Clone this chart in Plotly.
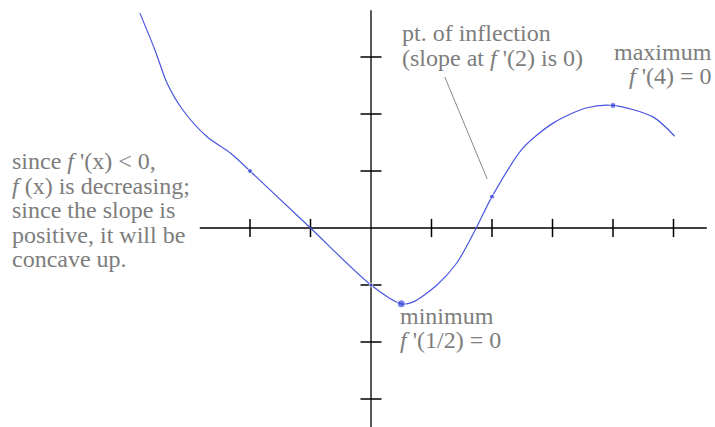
import plotly.graph_objects as go

# Derivative curve f'(x), traced as (x, y) samples; split at the corner x = -2
left_x = [-3.82, -3.57, -3.37, -3.11, -2.71, -2.33, -2.0]
left_y = [3.77, 3.12, 2.54, 2.07, 1.60, 1.32, 1.0]
right_x = [-2.0, -1.0, 0.0, 0.5, 0.69, 1.09, 1.42, 1.74, 2.0, 2.51, 3.01, 3.57, 4.0, 4.66, 5.02]
right_y = [1.0, 0.0, -1.0, -1.33, -1.30, -1.0, -0.61, 0.0, 0.55, 1.40, 1.84, 2.11, 2.15, 1.95, 1.61]

# Highlighted points on the curve
point_x = [-2.0, 0.0, 0.5, 2.0, 4.0]
point_y = [1.0, -1.0, -1.33, 0.55, 2.15]
point_size = [5, 4, 8, 5, 6]

# Axis tick positions
x_ticks = [-2, -1, 1, 2, 3, 4, 5]
y_ticks = [-3, -2, -1, 1, 2, 3]

# Axis extents
x_axis_span = [-2.83, 5.55]
y_axis_span = [-3.6, 3.82]

# Note lines
concavity_lines = ["since <i>f</i> '(x) &lt; 0,", "<i>f</i> (x) is decreasing;", "since the slope is",
                   "positive, it will be", "concave up."]
inflection_lines = ["pt. of inflection", "(slope at <i>f</i> '(2) is 0)"]
maximum_lines = ["maximum", "<i>f</i> '(4) = 0"]
minimum_lines = ["minimum", "<i>f</i> '(1/2) = 0"]

TEXT = "#7d7d7d"
BLUE = "#4a56e0"
FONT = "Times New Roman"
FONT_SIZE = 24

# pixel geometry of the drawing area
X0_PX, X_UNIT = 371, 60.5
Y0_PX, Y_UNIT = 228, 57


def px_x(px):
    return (px - X0_PX) / X_UNIT


def px_y(py):
    return (Y0_PX - py) / Y_UNIT


fig = go.Figure()

# axes
fig.add_trace(go.Scatter(x=x_axis_span, y=[0, 0], mode="lines",
                         line=dict(color="black", width=1.3), hoverinfo="skip"))
fig.add_trace(go.Scatter(x=[0, 0], y=y_axis_span, mode="lines",
                         line=dict(color="black", width=1.3), hoverinfo="skip"))
fig.add_trace(go.Scatter(x=x_ticks, y=[0] * len(x_ticks), mode="markers",
                         marker=dict(symbol="line-ns", size=13, line=dict(color="black", width=1.5)),
                         hoverinfo="skip"))
fig.add_trace(go.Scatter(x=[0] * len(y_ticks), y=y_ticks, mode="markers",
                         marker=dict(symbol="line-ew", size=15, line=dict(color="black", width=1.5)),
                         hoverinfo="skip"))

# pointer to the inflection point
fig.add_trace(go.Scatter(x=[1.22, 1.92], y=[2.65, 0.86], mode="lines",
                         line=dict(color="#8a8a8a", width=1), hoverinfo="skip"))

# curve and points
for cx, cy in ((left_x, left_y), (right_x, right_y)):
    fig.add_trace(go.Scatter(x=cx, y=cy, mode="lines",
                             line=dict(color=BLUE, width=1.2, shape="spline", smoothing=0.8),
                             hoverinfo="skip"))
fig.add_trace(go.Scatter(x=point_x, y=point_y, mode="markers",
                         marker=dict(color="#3343d8", size=point_size), hoverinfo="skip"))


def note(lines, edge_px, first_baseline_px, step_px, xanchor="left"):
    """Stack text lines with a fixed baseline-to-baseline step."""
    for i, line in enumerate(lines):
        base = first_baseline_px + i * step_px
        fig.add_annotation(x=px_x(edge_px), y=px_y(base - 7), xref="x", yref="y",
                           text=line, showarrow=False, xanchor=xanchor, yanchor="middle",
                           align=xanchor, borderpad=0,
                           font=dict(family=FONT, size=FONT_SIZE, color=TEXT))


note(concavity_lines, 11, 168, 24.5)
note(inflection_lines, 401, 40, 25)
note(maximum_lines, 713, 59, 24, xanchor="right")
note(minimum_lines, 399, 323, 24)

fig.update_layout(
    width=715, height=427,
    margin=dict(l=0, r=0, t=0, b=0),
    paper_bgcolor="white", plot_bgcolor="white",
    showlegend=False,
    xaxis=dict(range=[px_x(0), px_x(715)], visible=False, fixedrange=True),
    yaxis=dict(range=[px_y(427), px_y(0)], visible=False, fixedrange=True),
)

fig.write_html("out.html")
